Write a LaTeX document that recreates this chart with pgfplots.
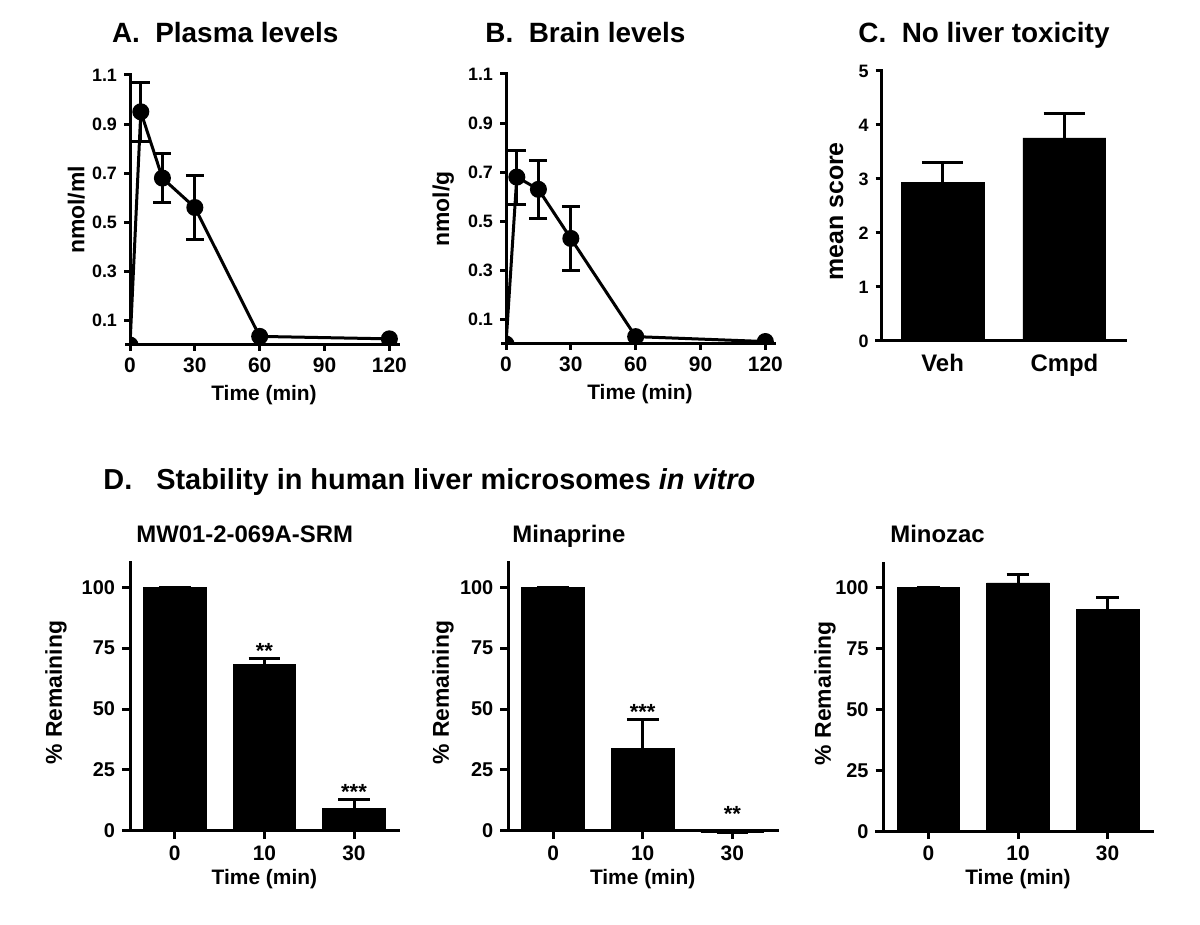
\documentclass[border=0pt]{standalone}
\usepackage{fontspec}
\setmainfont{Liberation Sans}
\usepackage{pgfplots}
\pgfplotsset{compat=1.18}

\newcommand{\fsz}[1]{\fontsize{#1}{#1}\selectfont\bfseries}

\pgfplotsset{
  gp/.style={
    scale only axis,
    anchor=south west,
    axis lines=left,
    axis line style={-, line width=1.5bp, line cap=rect},
    tick align=outside,
    major tick length=3bp,
    major tick style={black, line width=1.5bp},
    clip marker paths=true,
    xticklabel style={font=\fsz{10.5}},
    xlabel style={font=\fsz{10.5}, anchor=center},
    ylabel style={font=\fsz{11.5}, anchor=center},
  },
  ebars/.style={
    error bars/.cd, y dir=both, y explicit,
    error bar style={draw=black, solid, line width=1.5bp},
    error mark options={draw=black, rotate=90, mark size=4.5bp, line width=1.5bp},
  },
}

\begin{document}
\begin{tikzpicture}
\path[use as bounding box] (0,0) rectangle (600bp,462.5bp);

% titles
\node[anchor=base west, inner sep=0pt, font=\fsz{14}] at (55.8bp,441bp) {A.\ \ Plasma levels};
\node[anchor=base west, inner sep=0pt, font=\fsz{14}] at (242.5bp,441bp) {B.\ \ Brain levels};
\node[anchor=base west, inner sep=0pt, font=\fsz{14}] at (429bp,441bp) {C.\ \ No liver toxicity};
\node[anchor=base west, inner sep=0pt, font=\fsz{14.5}] at (51.5bp,217.5bp) {D.\ \ \ Stability in human liver microsomes \textit{in vitro}};
\node[anchor=base west, inner sep=0pt, font=\fsz{12}] at (68bp,191bp) {MW01-2-069A-SRM};
\node[anchor=base west, inner sep=0pt, font=\fsz{12}] at (256bp,191bp) {Minaprine};
\node[anchor=base west, inner sep=0pt, font=\fsz{12}] at (445bp,191bp) {Minozac};

% ---------- A
\begin{axis}[gp, at={(65bp,290bp)}, width=134bp, height=135bp,
  xmin=0, xmax=124, ymin=0, ymax=1.1,
  xtick={0,30,60,90,120}, xticklabels={0,30,60,90,120},
  ytick={0.1,0.3,0.5,0.7,0.9,1.1}, yticklabels={0.1,0.3,0.5,0.7,0.9,1.1},
  yticklabel style={font=\fsz{9}},
  xlabel={Time (min)}, ylabel={nmol/ml},
  xlabel style={at={(axis description cs:0.5,-0.185)}},
  ylabel style={at={(axis description cs:-0.2,0.5)}},
]
\addplot[forget plot, draw=none, mark=none, ebars] coordinates {
 (5,0.95) +- (0,0.12) (15,0.68) +- (0,0.10) (30,0.56) +- (0,0.13)};
\addplot[black, line width=1.5bp, mark=*, mark size=3.5bp] coordinates {
 (0,0) (5,0.95) (15,0.68) (30,0.56) (60,0.035) (120,0.025)};
\end{axis}
\draw[line width=1.5bp] (65bp,290bp) -- ++(-2.5bp,0);

% ---------- B
\begin{axis}[gp, at={(253bp,290.5bp)}, width=134bp, height=135bp,
  xmin=0, xmax=124, ymin=0, ymax=1.1,
  xtick={0,30,60,90,120}, xticklabels={0,30,60,90,120},
  ytick={0.1,0.3,0.5,0.7,0.9,1.1}, yticklabels={0.1,0.3,0.5,0.7,0.9,1.1},
  yticklabel style={font=\fsz{9}},
  xlabel={Time (min)}, ylabel={nmol/g},
  xlabel style={at={(axis description cs:0.5,-0.185)}},
  ylabel style={at={(axis description cs:-0.234,0.5)}},
]
\addplot[forget plot, draw=none, mark=none, ebars] coordinates {
 (5,0.68) +- (0,0.11) (15,0.63) +- (0,0.118) (30,0.43) +- (0,0.131)};
\addplot[black, line width=1.5bp, mark=*, mark size=3.5bp] coordinates {
 (0,0) (5,0.68) (15,0.63) (30,0.43) (60,0.03) (120,0.01)};
\end{axis}
\draw[line width=1.5bp] (253bp,290.5bp) -- ++(-2.5bp,0);

% ---------- C
\begin{axis}[gp, at={(440.85bp,292bp)}, width=121.8bp, height=135bp,
  xmin=-0.5, xmax=1.5, ymin=0, ymax=5,
  xtick={0,1}, xticklabels={Veh,Cmpd}, xtick style={draw=none},
  xticklabel style={font=\fsz{12}},
  ytick={0,1,2,3,4,5}, yticklabels={0,1,2,3,4,5},
  yticklabel style={font=\fsz{9}},
  ylabel={mean score},
  ylabel style={font=\fsz{12.5}, at={(axis description cs:-0.185,0.48)}},
]
\addplot[ybar, bar width=0.68, fill=black, draw=black,
  error bars/.cd, y dir=plus, y explicit,
  error bar style={draw=black, solid, line width=1.5bp},
  error mark options={draw=black, rotate=90, mark size=10.4bp, line width=1.5bp}]
  coordinates {(0,2.94) +- (0,0.37) (1,3.76) +- (0,0.45)};
\end{axis}
\draw[line width=1.5bp] (440.85bp,292bp) -- ++(-3.3bp,0);

% ---------- D1
\begin{axis}[gp, at={(65bp,47.15bp)}, width=134.4bp, height=133.85bp,
  xmin=-0.5, xmax=2.5, ymin=0, ymax=110,
  xtick={0,1,2}, xticklabels={0,10,30},
  ytick={0,25,50,75,100}, yticklabels={0,25,50,75,100},
  yticklabel style={font=\fsz{10}},
  major tick length=4bp,
  xlabel={Time (min)}, ylabel={\% Remaining},
  xlabel style={at={(axis description cs:0.5,-0.18)}},
  ylabel style={at={(axis description cs:-0.275,0.516)}},
  clip=false,
]
\addplot[ybar, bar width=0.70, fill=black, draw=black,
  error bars/.cd, y dir=plus, y explicit,
  error bar style={draw=black, solid, line width=1.5bp},
  error mark options={draw=black, rotate=90, mark size=7.9bp, line width=1.5bp}]
  coordinates {(0,100) +- (0,0) (1,68.4) +- (0,2.2) (2,9.2) +- (0,3.7)};
\node[anchor=base, font=\fsz{11}] at (axis cs:1,70.6) {**};
\node[anchor=base, font=\fsz{11}] at (axis cs:2,12.9) {***};
\end{axis}
\draw[line width=1.5bp] (65bp,47.15bp) -- ++(-4.15bp,0);

% ---------- D2
\begin{axis}[gp, at={(254.15bp,47.15bp)}, width=134.4bp, height=133.85bp,
  xmin=-0.5, xmax=2.5, ymin=0, ymax=110,
  xtick={0,1,2}, xticklabels={0,10,30},
  ytick={0,25,50,75,100}, yticklabels={0,25,50,75,100},
  yticklabel style={font=\fsz{10}},
  major tick length=4bp,
  xlabel={Time (min)}, ylabel={\% Remaining},
  xlabel style={at={(axis description cs:0.5,-0.18)}},
  ylabel style={at={(axis description cs:-0.243,0.516)}},
  clip=false,
]
\addplot[ybar, bar width=0.70, fill=black, draw=black,
  error bars/.cd, y dir=plus, y explicit,
  error bar style={draw=black, solid, line width=1.5bp},
  error mark options={draw=black, rotate=90, mark size=7.9bp, line width=1.5bp}]
  coordinates {(0,100) +- (0,0) (1,33.9) +- (0,11.9) (2,-0.8) +- (0,0)};
\node[anchor=base, font=\fsz{11}] at (axis cs:1,45.8) {***};
\node[anchor=base, font=\fsz{11}] at (axis cs:2,3.7) {**};
\end{axis}
\draw[line width=1.5bp] (254.15bp,47.15bp) -- ++(-4.15bp,0);

% ---------- D3
\begin{axis}[gp, at={(441.8bp,46.9bp)}, width=134.4bp, height=133.85bp,
  xmin=-0.5, xmax=2.5, ymin=0, ymax=110,
  xtick={0,1,2}, xticklabels={0,10,30},
  ytick={0,25,50,75,100}, yticklabels={0,25,50,75,100},
  yticklabel style={font=\fsz{10}},
  major tick length=4bp,
  xlabel={Time (min)}, ylabel={\% Remaining},
  xlabel style={at={(axis description cs:0.5,-0.18)}},
  ylabel style={at={(axis description cs:-0.218,0.516)}},
  clip=false,
]
\addplot[ybar, bar width=0.70, fill=black, draw=black,
  error bars/.cd, y dir=plus, y explicit,
  error bar style={draw=black, solid, line width=1.5bp},
  error mark options={draw=black, rotate=90, mark size=5.7bp, line width=1.5bp}]
  coordinates {(0,100) +- (0,0) (1,102) +- (0,3.6) (2,91) +- (0,5.2)};
\end{axis}
\draw[line width=1.5bp] (441.8bp,46.9bp) -- ++(-4.15bp,0);

\end{tikzpicture}
\end{document}
